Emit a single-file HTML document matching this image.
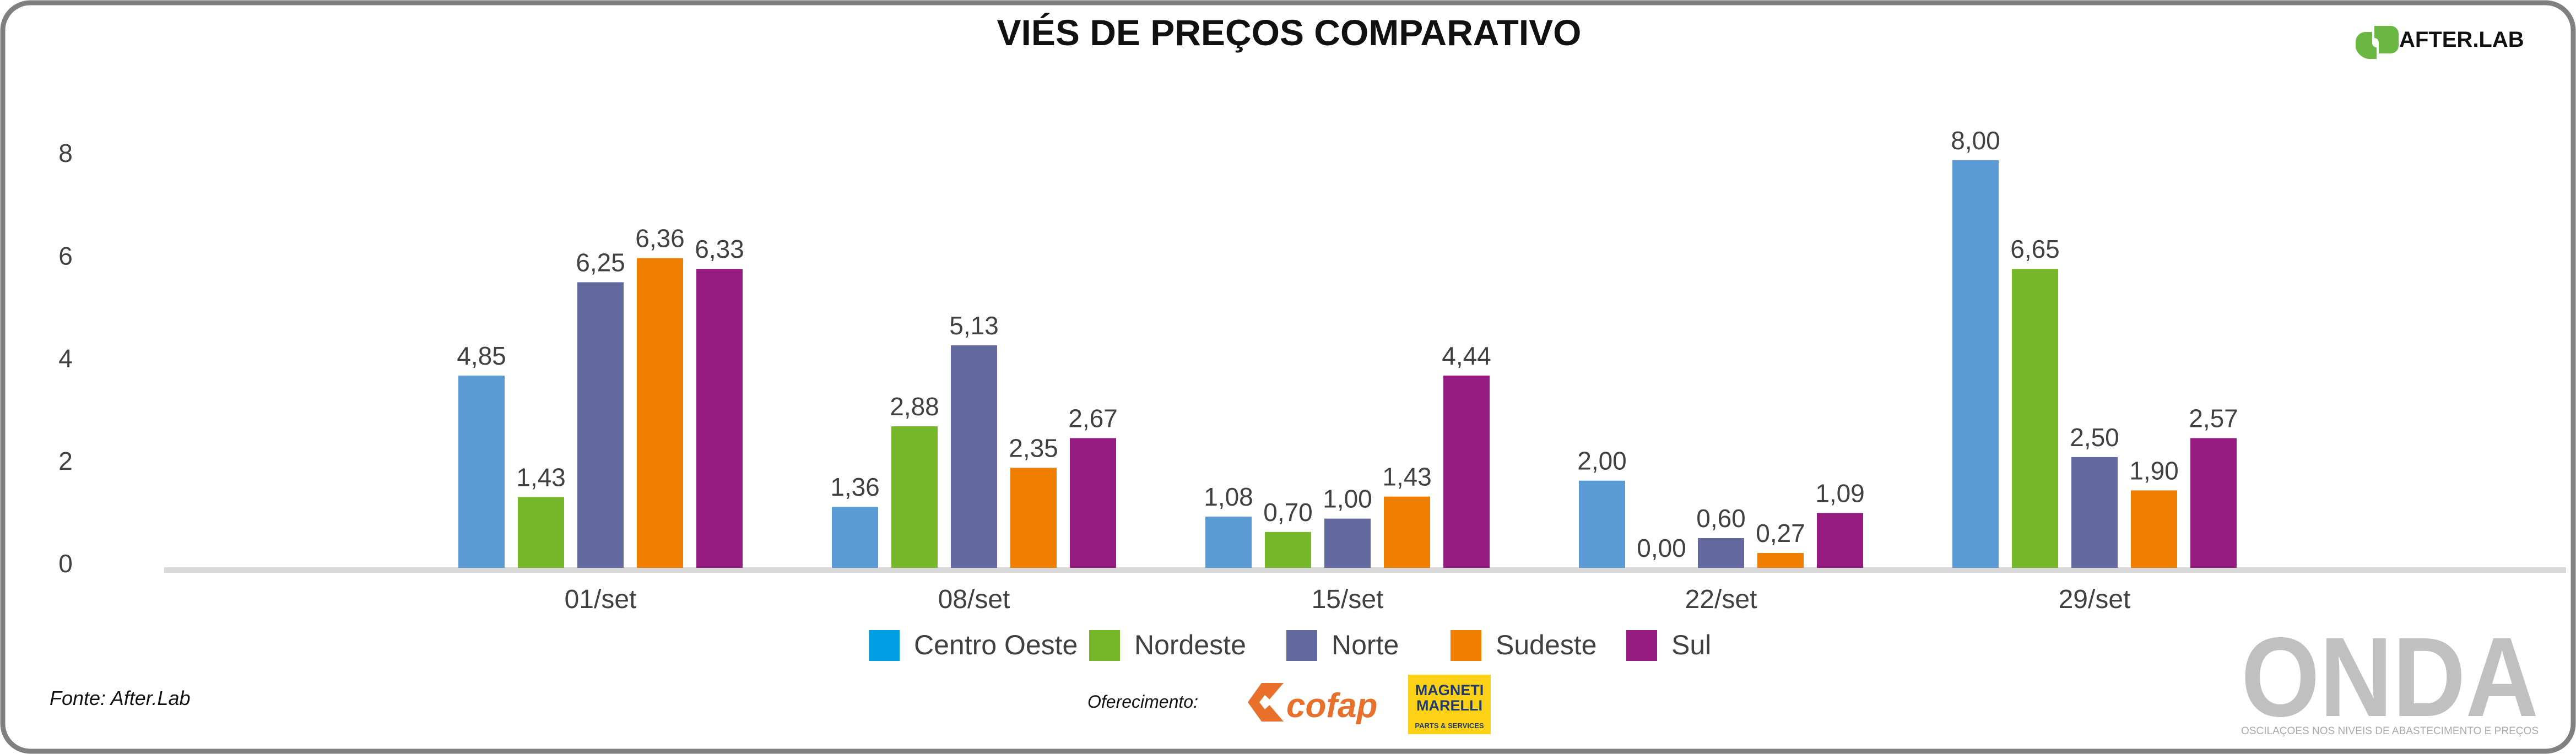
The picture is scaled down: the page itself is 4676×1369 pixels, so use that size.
<!DOCTYPE html>
<html><head><meta charset="utf-8"><style>
html,body{margin:0;padding:0;background:#fff}
svg{display:block}
text{font-family:"Liberation Sans",sans-serif}
</style></head><body>
<svg id="chart" width="4676" height="1369" viewBox="0 0 4676 1369" xmlns="http://www.w3.org/2000/svg">
<rect x="5" y="5" width="4666" height="1359" rx="50" fill="#fff" stroke="#808080" stroke-width="9"/>
<text x="2340" y="82" font-size="66" font-weight="bold" text-anchor="middle" fill="#111">VIÉS DE PREÇOS COMPARATIVO</text>
<g>
<path d="M4310 47 h30 a14 14 0 0 1 14 14 v22 a14 14 0 0 1 -14 14 h-22 v-20 a8 8 0 0 0 -8 -8 z" fill="#6ab744"/>
<path d="M4306 58 v20 a8 8 0 0 0 8 8 v21 h-8 a28 28 0 0 1 -30 -20 v-10 a18 18 0 0 1 18 -19 z" fill="#6ab744"/>
<text x="4355" y="85" font-size="40" font-weight="bold" fill="#111">AFTER.LAB</text>
</g>
<line x1="298" y1="1035" x2="4658" y2="1035" stroke="#d9d9d9" stroke-width="10"/>
<g id="yticks"></g>
<g id="bars"></g>
<g id="xlabels"></g>
<g id="legend"></g>
<text x="90" y="1280" font-size="36" font-style="italic" fill="#111">Fonte: After.Lab</text>
<text x="1974" y="1285" font-size="32" font-style="italic" fill="#111">Oferecimento:</text>
<g>
<polygon points="2290,1240 2330,1240 2300,1275 2330,1310 2290,1310 2265,1275" fill="#e8702a"/>
<polygon points="2296,1262 2310,1275 2296,1288 2286,1275" fill="#fff"/>
<text x="2335" y="1302" font-size="62" font-weight="bold" font-style="italic" fill="#e8702a">cofap</text>
</g>
<g>
<rect x="2556" y="1225" width="150" height="108" fill="#fcd116"/>
<text x="2631" y="1262" font-size="27" font-weight="bold" text-anchor="middle" fill="#1e3a6e">MAGNETI</text>
<text x="2631" y="1290" font-size="27" font-weight="bold" text-anchor="middle" fill="#1e3a6e">MARELLI</text>
<text x="2631" y="1322" font-size="13" font-weight="bold" text-anchor="middle" fill="#1e3a6e">PARTS &amp; SERVICES</text>
</g>
<g>
<text x="4338" y="1300" font-size="205" font-weight="bold" text-anchor="middle" fill="#bfc0bf" textLength="540" lengthAdjust="spacingAndGlyphs">ONDA</text>
<text x="4338" y="1333" font-size="19" text-anchor="middle" fill="#aaa" textLength="540" lengthAdjust="spacing">OSCILAÇOES NOS NIVEIS DE ABASTECIMENTO E PREÇOS</text>
</g>
</svg>
<script>
const categories = ["01/set","08/set","15/set","22/set","29/set"];
const seriesNames = ["Centro Oeste","Nordeste","Norte","Sudeste","Sul"];
const centroOeste = [3.75,1.19,1.0,1.70,7.95];
const nordeste = [1.38,2.76,0.70,0.0,5.83];
const norte = [5.57,4.34,0.96,0.58,2.16];
const sudeste = [6.04,1.95,1.39,0.29,1.51];
const sul = [5.83,2.53,3.75,1.07,2.53];
const labelsCentroOeste = ["4,85","1,36","1,08","2,00","8,00"];
const labelsNordeste = ["1,43","2,88","0,70","0,00","6,65"];
const labelsNorte = ["6,25","5,13","1,00","0,60","2,50"];
const labelsSudeste = ["6,36","2,35","1,43","0,27","1,90"];
const labelsSul = ["6,33","2,67","4,44","1,09","2,57"];
const yTicks = [0,2,4,6,8];

const NS="http://www.w3.org/2000/svg";
const colors=["#5b9bd5","#77b82a","#63689f","#ef7d00","#951b81"];
const legendColors=["#009fe3","#77b82a","#63689f","#ef7d00","#951b81"];
const series=[centroOeste,nordeste,norte,sudeste,sul];
const labels=[labelsCentroOeste,labelsNordeste,labelsNorte,labelsSudeste,labelsSul];
const baseY=1031, unit=93.1;
function y(v){return baseY-v*unit;}
function xCat(i){return 1090+i*678;}
function el(tag,attrs,parent,txt){const e=document.createElementNS(NS,tag);for(const k in attrs)e.setAttribute(k,attrs[k]);if(txt!==undefined)e.textContent=txt;parent.appendChild(e);return e;}

const gy=document.getElementById('yticks');
yTicks.forEach(v=>{
  const t=el('text',{x:119,y:y(v)+8,'font-size':46,'text-anchor':'middle',fill:'#404040'},gy,String(v));
  
  
});
const gb=document.getElementById('bars');
categories.forEach((c,i)=>{
  series.forEach((s,j)=>{
    const cx=xCat(i)+(j-2)*108;
    const v=s[i];
    const r=el('rect',{x:cx-42,y:y(v),width:84,height:Math.max(0,baseY-y(v)),fill:colors[j]},gb);
    
    
    const t=el('text',{x:cx,y:y(v)-20,'font-size':46,'text-anchor':'middle',fill:'#404040'},gb,labels[j][i]);
    
    
  });
});
const gx=document.getElementById('xlabels');
categories.forEach((c,i)=>{
  const t=el('text',{x:xCat(i),y:1104,'font-size':48,'text-anchor':'middle',fill:'#404040'},gx,c);
  
  
});
const gl=document.getElementById('legend');
const legX=[1577,1977,2335,2633,2952];
seriesNames.forEach((n,j)=>{
  const r=el('rect',{x:legX[j],y:1144,width:56,height:56,fill:legendColors[j]},gl);
  
  
  const t=el('text',{x:legX[j]+82,y:1188,'font-size':50,fill:'#404040'},gl,n);
  
  
});
</script>
</body></html>
